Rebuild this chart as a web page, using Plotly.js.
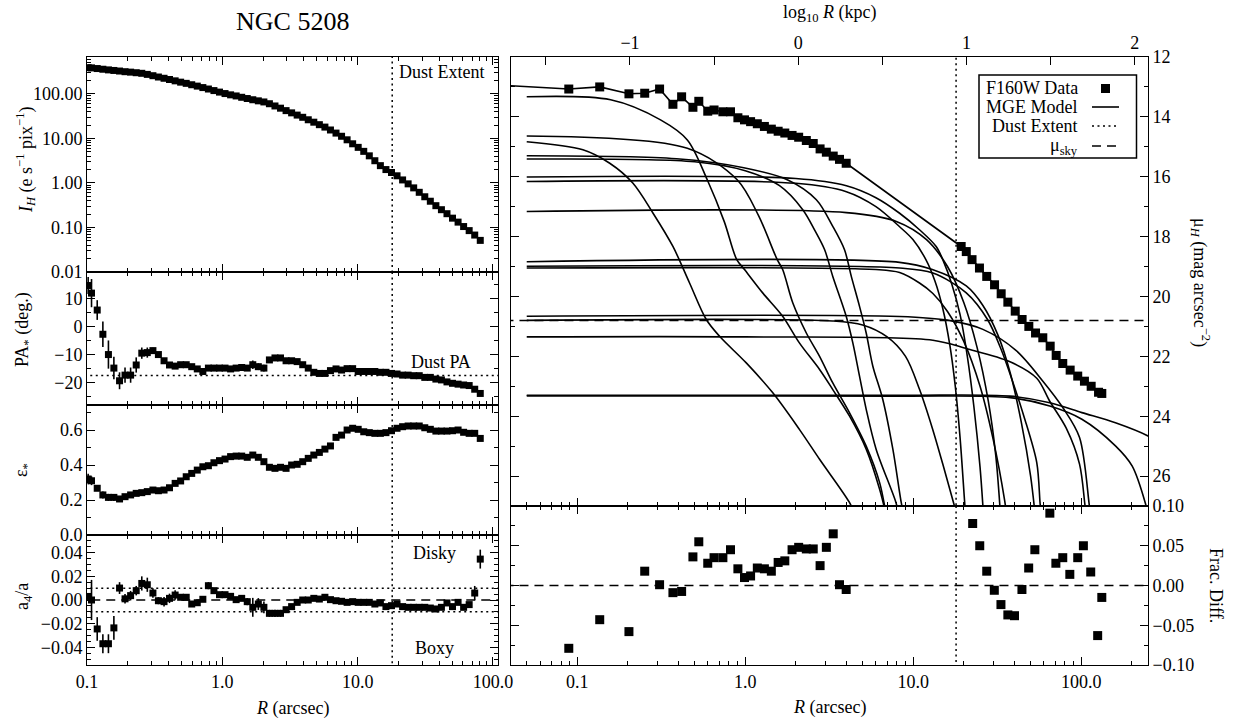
<!DOCTYPE html>
<html><head><meta charset="utf-8">
<script src="https://cdn.plot.ly/plotly-3.0.1.min.js"></script>
<style>html,body{margin:0;padding:0;background:#fff}#chart{width:1233px;height:721px}</style>
</head><body><div id="chart"></div>
<script>
// ===== Isophote table (left column) =====
const isoR = [0.102,0.108,0.119,0.131,0.144,0.158,0.174,0.191,0.210,0.231,0.254,0.279,0.307,0.337,0.371,0.407,0.448,0.492,0.541,0.594,0.653,0.718,0.789,0.867,0.953,1.047,1.151,1.265,1.390,1.528,1.679,1.845,2.028,2.228,2.449,2.692,2.958,3.251,3.573,3.926,4.315,4.742,5.212,5.728,6.295,6.918,7.603,8.356,9.183,10.09,11.09,12.19,13.40,14.72,16.18,17.78,19.54,21.48,23.60,25.94,28.51,31.33,34.43,37.84,41.59,45.71,50.23,55.21,60.67,66.68,73.28,80.54];
const isoI = [389,385,372,359,347,337,327,316,309,300,291,275,257,240,225,211,197,184,173,161,150,139,129,119,110,102,95.5,90.2,84.1,78.9,74.1,70.0,66.1,60.3,53.7,47.9,42.2,37.6,33.5,29.9,26.3,23.2,20.4,18.0,15.5,13.2,11.2,9.33,7.59,6.31,5.13,4.07,3.16,2.45,2.00,1.72,1.45,1.17,0.955,0.776,0.617,0.490,0.389,0.309,0.251,0.204,0.162,0.132,0.105,0.0851,0.0676,0.0513];
const isoPA = [14.5,11.8,5.8,-2.8,-10.0,-14.8,-19.3,-17.3,-17.3,-13.7,-9.5,-9.3,-8.6,-10.0,-12.2,-13.7,-14.1,-13.6,-13.6,-14.3,-15.1,-16.0,-14.8,-14.8,-14.8,-14.8,-15.1,-14.8,-14.6,-14.8,-13.6,-14.3,-14.8,-11.9,-11.2,-11.2,-12.2,-12.2,-12.5,-13.6,-14.8,-16.3,-16.7,-16.7,-15.7,-15.1,-15.5,-15.0,-15.0,-16.0,-16.0,-16.0,-16.0,-16.3,-16.3,-16.7,-16.9,-17.3,-17.3,-17.5,-17.5,-18.1,-18.1,-18.7,-19.0,-19.7,-20.2,-20.5,-20.8,-21.0,-22.3,-23.8];
const isoPAerr = [3,5,3.5,4.5,5,4,3,2.7,2.7,2.7,2,1.8,1,0.7,1,0.5,0.5,0.5,0.5,0.5,0.5,0.5,0.5,0.5,0.5,0.5,0.5,0.5,0.5,0.5,1.5,1.2,1.2,1,0.8,0.8,0.5,0.4,0.4,0.4,0.4,0.4,0.4,0.4,0.4,0.4,0.4,0.4,0.4,0.4,0.4,0.4,0.4,0.4,0.4,0.4,0.4,0.4,0.4,0.4,0.4,0.4,0.4,0.4,0.4,0.4,0.4,0.4,0.4,0.4,0.4,0.4];
const isoEps = [0.32,0.31,0.267,0.229,0.215,0.215,0.206,0.219,0.229,0.238,0.242,0.248,0.257,0.253,0.257,0.270,0.295,0.309,0.333,0.352,0.371,0.390,0.396,0.413,0.425,0.434,0.448,0.451,0.451,0.444,0.457,0.444,0.419,0.387,0.381,0.387,0.381,0.400,0.404,0.419,0.438,0.457,0.472,0.491,0.509,0.558,0.571,0.600,0.610,0.604,0.590,0.585,0.581,0.581,0.585,0.596,0.610,0.619,0.623,0.623,0.623,0.613,0.604,0.594,0.594,0.594,0.596,0.600,0.587,0.581,0.581,0.552];
const isoEpsErr = [0.03,0.025,0.015,0.02,0.02,0.02,0.015,0.008,0.006,0.005,0.004,0.004,0.004,0.004,0.004,0.004,0.004,0.004,0.004,0.004,0.004,0.004,0.004,0.004,0.004,0.004,0.004,0.004,0.004,0.004,0.004,0.004,0.004,0.004,0.004,0.004,0.004,0.004,0.004,0.004,0.004,0.004,0.004,0.004,0.004,0.004,0.004,0.004,0.004,0.004,0.004,0.004,0.004,0.004,0.004,0.004,0.004,0.004,0.004,0.004,0.004,0.004,0.004,0.004,0.004,0.004,0.004,0.004,0.004,0.004,0.004,0.004];
const isoA4 = [0.003,0.000,-0.0245,-0.037,-0.037,-0.0236,0.0101,0.001,0.0037,0.0079,0.014,0.0129,0.0059,-0.0006,-0.0014,0.0014,0.0042,0.0023,0.0023,-0.0034,-0.0023,0.0006,0.0121,0.0079,0.0045,0.0045,0.0031,0.0003,0.0014,-0.0014,-0.0062,-0.0034,-0.0062,-0.0113,-0.0113,-0.0113,-0.0082,-0.0056,-0.002,0.000,0.000,0.0014,0.0008,0.0023,0.0003,-0.0006,-0.0011,-0.002,-0.0014,-0.002,-0.002,-0.002,-0.0034,-0.0025,-0.0056,-0.0048,-0.0034,-0.0056,-0.0062,-0.0062,-0.0062,-0.0062,-0.0068,-0.0076,-0.0062,-0.0025,-0.0056,-0.002,-0.0062,-0.0039,0.0059,0.0346];
const isoA4err = [0.003,0.017,0.01,0.008,0.008,0.01,0.005,0.004,0.004,0.004,0.006,0.006,0.004,0.003,0.004,0.004,0.004,0.002,0.002,0.002,0.002,0.002,0.003,0.002,0.002,0.002,0.002,0.002,0.002,0.003,0.008,0.005,0.005,0.003,0.003,0.003,0.002,0.002,0.002,0.002,0.002,0.002,0.002,0.002,0.002,0.002,0.002,0.002,0.002,0.002,0.002,0.002,0.002,0.002,0.002,0.002,0.002,0.002,0.002,0.002,0.002,0.002,0.002,0.002,0.002,0.002,0.002,0.002,0.002,0.002,0.006,0.008];
const dustExtent = 18.0;
const dustPA = -17.4;
const a4Band = [0.01, -0.01];

// ===== Surface brightness (right column) =====
const sbRin = [0.089,0.136,0.203,0.252,0.309,0.371,0.418,0.488,0.529,0.598,0.652,0.736,0.817,0.904,0.99,1.076,1.18,1.30,1.43,1.57,1.72,1.90,2.08,2.31,2.54,2.79,3.04,3.34,3.64,3.99];
const sbMuIn = [13.07,13.00,13.23,13.21,13.07,13.58,13.33,13.68,13.48,13.81,13.77,13.83,13.83,14.03,14.10,14.16,14.23,14.32,14.41,14.48,14.54,14.62,14.68,14.79,14.89,15.07,15.18,15.31,15.42,15.55];
const sbRout = [19.3,20.7,22.4,24.8,27.4,30.5,33.4,36.6,40.5,44.5,48.8,53.5,59.1,65.4,71.0,77.7,86.0,95.4,104.6,114.7,126.9,132.7];
const sbMuOut = [18.33,18.50,18.77,19.05,19.33,19.61,19.91,20.19,20.49,20.77,21.00,21.22,21.38,21.66,21.97,22.24,22.46,22.66,22.83,23.00,23.20,23.24];
const modelStartR = 0.04, modelStartMu = 12.96;
const residRin = sbRin;
const residIn = [-0.079,-0.043,-0.058,0.018,0.001,-0.009,-0.0075,0.036,0.055,0.028,0.035,0.035,0.045,0.021,0.010,0.012,0.022,0.021,0.018,0.029,0.031,0.045,0.048,0.046,0.046,0.025,0.048,0.065,0.001,-0.005];
const residRout = [22.6,24.9,27.4,30.4,33.3,36.6,40.1,44.4,48.7,53.0,65.1,70.7,77.7,85.6,95.4,103.1,114.0,125.4,132.7];
const residOut = [0.078,0.050,0.018,-0.006,-0.024,-0.037,-0.038,-0.005,0.022,0.045,0.091,0.028,0.035,0.014,0.035,0.050,0.017,-0.063,-0.015];
const muSky = 20.8;

// MGE components, traced as (R arcsec, mu) points
const mgeR = [
 [0.05,0.158,0.313,0.452,0.594,0.75,0.89,0.99,1.27,1.67,2.10,2.77,3.32,4.18,5.25,6.31,6.9],
 [0.05,0.452,0.895,1.2,1.55,1.67,1.92,2.31,2.77,3.32,4.18,5.25,6.31,6.9],
 [0.05,0.108,0.156,0.214,0.282,0.371,0.466,0.586,0.703,1.014,1.459,2.10,2.77,4.18,4.5],
 [0.05,0.39,0.98,1.78,2.65,3.32,3.90,4.28,4.79,5.25,5.75,6.59,7.57,8.49,8.8],
 [0.05,0.5,1.0,1.6,2.2,2.6,2.97,3.32,3.99,4.37,4.79,5.25,6.02,7.9,8.2],
 [0.05,2,4,6,8.3,10.9,13.7,15,17,19,21,23,25,26],
 [0.05,2,4,6,8.3,9.96,11.9,13.5,15,16.5,17.8,19,20.2,20.5],
 [0.05,4,8,12,16,20,24,28,31,33],
 [0.05,8.3,13,20.7,26,32,38,44,50,53],
 [0.05,8.3,13.1,20.7,27.7,33.4,39.3,45.6,54.4,57,58],
 [0.05,6,8.3,10.9,13.1,16,20,25,30,35,36],
 [0.05,3.3,5,7,9,10.9,13,15,17.6,18.5],
 [0.05,8.3,16.3,26,40.9,59,77.7,97.8,112,115],
 [0.05,1,13.1,20.7,37.7,54.4,65,81.5,97.8,105,107],
 [0.05,8.3,37.7,65,101,160,250,260],
 [0.05,8.3,37.7,65,101,160,201,242,250]
];
const mgeMu = [
 [13.33,13.43,14.10,14.77,16.10,17.5,18.77,19.1,19.88,20.66,21.55,22.44,23.11,24.0,25.1,26.44,27.3],
 [14.64,15.05,16.10,17.3,18.77,19.1,20.22,21.22,22.0,22.89,23.89,25.0,26.22,27.3],
 [14.83,15.10,15.55,16.21,17.21,18.33,19.55,20.77,21.33,22.22,23.22,24.44,25.44,26.89,27.3],
 [15.30,15.40,15.70,16.10,16.77,17.66,18.44,19.33,20.33,21.22,22.33,23.44,25.11,26.89,27.3],
 [15.41,15.5,15.8,16.3,17.1,17.8,18.44,19.33,20.66,21.55,22.66,23.77,25.11,26.89,27.3],
 [16.01,16.06,16.3,16.7,17.22,17.77,18.33,18.77,19.6,20.6,22.0,23.7,25.7,27.0],
 [16.16,16.22,16.5,17.0,17.67,18.1,18.77,19.5,20.4,21.6,23.0,24.7,26.8,27.3],
 [17.16,17.2,17.5,18.1,19.0,20.2,21.7,23.5,25.3,27.2],
 [18.84,18.86,19.1,19.65,20.3,21.3,22.6,24.2,26.0,27.2],
 [18.99,19.05,19.22,19.88,20.77,21.77,22.88,24.0,25.55,26.94,27.3],
 [19.05,19.1,19.2,19.55,19.9,20.5,21.5,23.0,24.8,26.8,27.3],
 [20.80,20.82,20.95,21.35,22.0,23.1,24.4,25.6,27.0,27.4],
 [20.66,20.67,20.8,21.1,21.8,22.82,23.71,24.71,27,27.4],
 [21.35,21.35,21.46,21.74,22.18,22.73,23.5,24.4,25.6,26.9,27.3],
 [23.30,23.30,23.33,23.55,23.88,24.22,24.66,24.72],
 [23.32,23.33,23.38,23.66,24.1,24.99,25.66,26.94,27.3]
];

// ===== Tick labels =====
const rTickVals = [0.1,1,10,100];
const rTickText = ['0.1','1.0','10.0','100.0'];
const rMinor = [0.05,0.06,0.07,0.08,0.09,0.2,0.3,0.4,0.5,0.6,0.7,0.8,0.9,2,3,4,5,6,7,8,9,20,30,40,50,60,70,80,90,200];
const iTickVals = [0.01,0.1,1,10,100];
const iTickText = ['0.01','0.10','1.00','10.00','100.00'];
const iMinor = [0.02,0.03,0.04,0.05,0.06,0.07,0.08,0.09,0.2,0.3,0.4,0.5,0.6,0.7,0.8,0.9,2,3,4,5,6,7,8,9,20,30,40,50,60,70,80,90,200,300,400,500,600];
const kpcTickVals = [-1,0,1,2];
const kpcTickText = ['\u22121','0','1','2'];
const kpcRange = [-1.707, 2.078];

// ===== Layout helpers =====
const W = 1233, H = 721;
const FONT = 'Liberation Serif, Times New Roman, serif';
const fx = v => v / W;
const fy = v => 1 - v / H;
const LX = [fx(87), fx(498)], RX = [fx(511), fx(1148)];
const base = {showline:true, linecolor:'black', linewidth:1, ticks:'inside', ticklen:8, tickwidth:1,
  tickcolor:'black', showgrid:false, zeroline:false, tickfont:{family:FONT, size:18, color:'black'}};
const minorLog = vals => ({tickmode:'array', tickvals:vals, ticks:'inside', ticklen:4, tickcolor:'black', showgrid:false});
const minorLin = d => ({dtick:d, ticks:'inside', ticklen:4, tickcolor:'black', showgrid:false});

const leftX = (anchor, labels) => Object.assign({}, base, {type:'log', range:[-1, 2.037], domain:LX, anchor:anchor,
  tickmode:'array', tickvals:rTickVals, ticktext:rTickText, minor:minorLog(rMinor), mirror:'ticks', showticklabels:labels});

const sq = (size) => ({symbol:'square', size:size, color:'black', line:{width:0}});
const errStyle = (arr) => ({type:'data', array:arr, visible:true, color:'black', thickness:1.6, width:0});
const dotted = {color:'black', width:1.5, dash:'2px,3.5px'};
const dashed = {color:'black', width:1.5, dash:'9px,6px'};

const traces = [];
// dust extent lines in each panel
const panelY = [['y',[0.001,1000]],['y2',[-40,40]],['y3',[-0.2,1]],['y4',[-0.1,0.1]],['y5',[10,30]],['y6',[-0.2,0.2]]];
const panelX = ['x','x2','x3','x4','x5','x6'];
panelY.forEach((p,k) => traces.push({x:[dustExtent,dustExtent], y:p[1], xaxis:panelX[k], yaxis:p[0], mode:'lines', line:dotted, hoverinfo:'skip', showlegend:false}));

// I profile
traces.push({x:isoR, y:isoI, xaxis:'x', yaxis:'y', mode:'markers', marker:sq(7), showlegend:false});
// PA
traces.push({x:[0.05,200], y:[dustPA,dustPA], xaxis:'x2', yaxis:'y2', mode:'lines', line:dotted, showlegend:false});
traces.push({x:isoR, y:isoPA, error_y:errStyle(isoPAerr), xaxis:'x2', yaxis:'y2', mode:'markers', marker:sq(7), showlegend:false});
// eps
traces.push({x:isoR, y:isoEps, error_y:errStyle(isoEpsErr), xaxis:'x3', yaxis:'y3', mode:'markers', marker:sq(7), showlegend:false});
// a4
a4Band.forEach(v => traces.push({x:[0.05,200], y:[v,v], xaxis:'x4', yaxis:'y4', mode:'lines', line:dotted, showlegend:false}));
traces.push({x:[0.05,200], y:[0,0], xaxis:'x4', yaxis:'y4', mode:'lines', line:dashed, showlegend:false});
traces.push({x:isoR, y:isoA4, error_y:errStyle(isoA4err), xaxis:'x4', yaxis:'y4', mode:'markers', marker:sq(7), showlegend:false});

// right: components
mgeR.forEach((r,k) => traces.push({x:r, y:mgeMu[k], xaxis:'x5', yaxis:'y5', mode:'lines',
  line:{color:'black', width:1.6, shape:'spline', smoothing:0.9}, showlegend:false}));
// sky
traces.push({x:[0.03,300], y:[muSky,muSky], xaxis:'x5', yaxis:'y5', mode:'lines', line:dashed, showlegend:false});
// total model line through data
traces.push({x:[modelStartR].concat(sbRin, sbRout), y:[modelStartMu].concat(sbMuIn, sbMuOut), xaxis:'x5', yaxis:'y5', mode:'lines', line:{color:'black', width:1.6}, showlegend:false});
// data
traces.push({x:sbRin.concat(sbRout), y:sbMuIn.concat(sbMuOut), xaxis:'x5', yaxis:'y5', mode:'markers', marker:sq(9), showlegend:false});
// residuals
traces.push({x:[0.03,300], y:[0,0], xaxis:'x6', yaxis:'y6', mode:'lines', line:dashed, showlegend:false});
traces.push({x:residRin.concat(residRout), y:residIn.concat(residOut), xaxis:'x6', yaxis:'y6', mode:'markers', marker:sq(9), showlegend:false});
// invisible carrier so the top kpc axis is drawn
traces.push({x:kpcRange, y:[null,null], xaxis:'x7', yaxis:'y5', mode:'lines', line:{width:0}, hoverinfo:'skip', showlegend:false});

const ann = (text, x, y, o) => Object.assign({text:text, xref:'paper', yref:'paper', x:fx(x), y:fy(y), showarrow:false,
  xanchor:'center', yanchor:'middle', font:{family:FONT, size:18, color:'black'}}, o || {});

const layout = {
  width:W, height:H, margin:{l:0,r:0,t:0,b:0}, paper_bgcolor:'white', plot_bgcolor:'white', showlegend:false,
  font:{family:FONT, color:'black', size:18},
  xaxis: leftX('y',false),
  xaxis2: leftX('y2',false),
  xaxis3: leftX('y3',false),
  xaxis4: leftX('y4',true),
  yaxis: Object.assign({}, base, {type:'log', domain:[fy(272), fy(57)], anchor:'x', range:[-2, 2.83], tickmode:'array', tickvals:iTickVals, ticktext:iTickText, minor:minorLog(iMinor), mirror:'ticks'}),
  yaxis2: Object.assign({}, base, {domain:[fy(405), fy(272)], anchor:'x2', range:[-27.9, 19.3], tickmode:'linear', tick0:0, dtick:10, minor:minorLin(5), mirror:'ticks'}),
  yaxis3: Object.assign({}, base, {domain:[fy(535), fy(405)], anchor:'x3', range:[0, 0.743], tickmode:'linear', tick0:0, dtick:0.2, tickformat:'.1f', minor:minorLin(0.1), mirror:'ticks'}),
  yaxis4: Object.assign({}, base, {domain:[fy(665), fy(535)], anchor:'x4', range:[-0.055, 0.055], tickmode:'linear', tick0:0, dtick:0.02, tickformat:'.2f', minor:minorLin(0.005), mirror:'ticks'}),
  xaxis5: Object.assign({}, base, {type:'log', domain:RX, anchor:'y5', range:[Math.log10(0.0403), Math.log10(250)], tickmode:'array', tickvals:rTickVals, ticktext:rTickText, minor:minorLog(rMinor), mirror:true, showticklabels:false}),
  xaxis6: Object.assign({}, base, {type:'log', domain:RX, anchor:'y6', range:[Math.log10(0.0403), Math.log10(250)], tickmode:'array', tickvals:rTickVals, ticktext:rTickText, minor:minorLog(rMinor), mirror:'ticks'}),
  xaxis7: Object.assign({}, base, {overlaying:'x5', anchor:'y5', side:'top', type:'linear', range:kpcRange, autorange:false, tickmode:'array', tickvals:kpcTickVals, ticktext:kpcTickText,
    minor:{dtick:0.5, tick0:0, ticks:'inside', ticklen:8, tickcolor:'black', showgrid:false}}),
  yaxis5: Object.assign({}, base, {domain:[fy(506), fy(57)], anchor:'x5', side:'right', range:[27, 12], tickmode:'linear', tick0:12, dtick:2, minor:minorLin(1), mirror:'ticks'}),
  yaxis6: Object.assign({}, base, {domain:[fy(665), fy(506)], anchor:'x6', side:'right', range:[-0.1, 0.1], tickmode:'linear', tick0:0, dtick:0.05, tickformat:'.2f', minor:minorLin(0.025), mirror:'ticks'}),
  annotations: [
    ann('NGC 5208', 292, 22, {font:{family:FONT, size:26, color:'black'}}),
    ann('<i>I</i><sub><i>H</i></sub> (e s<sup>\u22121</sup> pix<sup>\u22121</sup>)', 25, 160, {textangle:-90}),
    ann('PA<sub>*</sub> (deg.)', 23, 330, {textangle:-90}),
    ann('\u03b5<sub>*</sub>', 22, 470, {textangle:-90}),
    ann('a<sub>4</sub>/a', 23, 597, {textangle:-90}),
    ann('<i>R</i> (arcsec)', 292, 708),
    ann('<i>R</i> (arcsec)', 829, 707),
    ann('log<sub>10</sub> <i>R</i> (kpc)', 830, 14),
    ann('\u03bc<sub><i>H</i></sub> (mag arcsec<sup>\u22122</sup>)', 1201, 282, {textangle:90}),
    ann('Frac. Diff.', 1216, 585, {textangle:90}),
    ann('Dust Extent', 487, 72, {xanchor:'right'}),
    ann('Dust PA', 441, 362),
    ann('Disky', 434, 553),
    ann('Boxy', 434, 648),
    ann('F160W Data', 1080, 88, {xanchor:'right'}),
    ann('MGE Model', 1080, 107, {xanchor:'right'}),
    ann('Dust Extent', 1080, 126, {xanchor:'right'}),
    ann('\u03bc<sub>sky</sub>', 1080, 146, {xanchor:'right'})
  ],
  shapes: [
    {type:'rect', xref:'paper', yref:'paper', x0:fx(979), x1:fx(1136.5), y0:fy(158), y1:fy(75), line:{color:'black', width:1.5}, fillcolor:'white', layer:'above'},
    {type:'rect', xref:'paper', yref:'paper', x0:fx(1101), x1:fx(1110), y0:fy(93), y1:fy(84), line:{width:0}, fillcolor:'black', layer:'above'},
    {type:'line', xref:'paper', yref:'paper', x0:fx(1092), x1:fx(1119), y0:fy(107), y1:fy(107), line:{color:'black', width:1.6}, layer:'above'},
    {type:'line', xref:'paper', yref:'paper', x0:fx(1092), x1:fx(1119), y0:fy(126), y1:fy(126), line:dotted, layer:'above'},
    {type:'line', xref:'paper', yref:'paper', x0:fx(1092), x1:fx(1119), y0:fy(146), y1:fy(146), line:dashed, layer:'above'}
  ]
};
Plotly.newPlot('chart', traces, layout, {displayModeBar:false, staticPlot:true});
</script></body></html>
